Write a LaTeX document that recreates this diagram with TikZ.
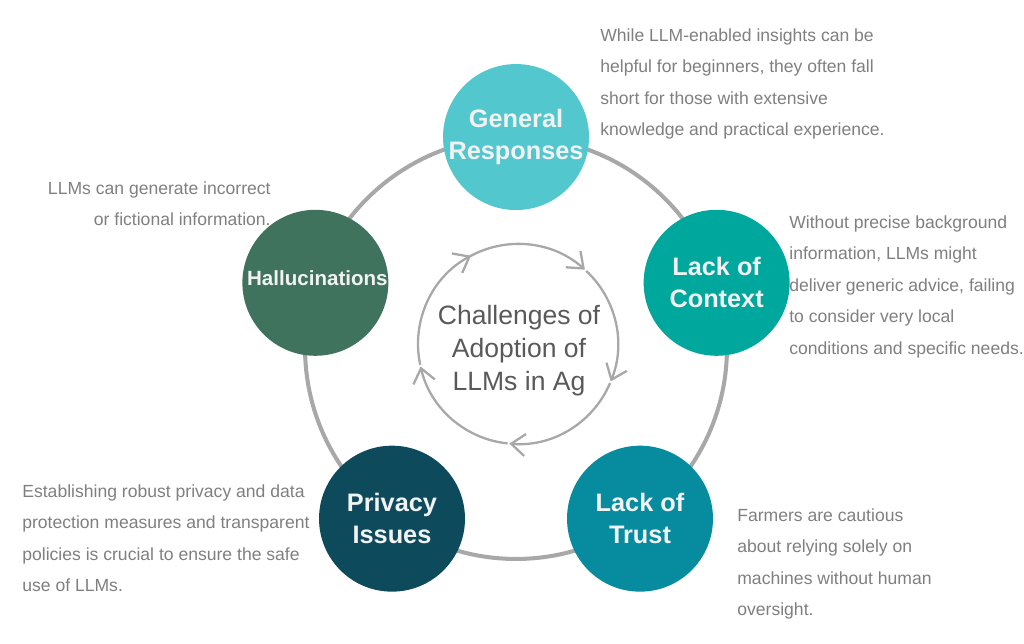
\documentclass[tikz,border=0pt]{standalone}
\usepackage{fontspec}
\setmainfont{Liberation Sans}
\usetikzlibrary{arrows.meta,calc}
\definecolor{genteal}{HTML}{52C7CE}
\definecolor{ctxteal}{HTML}{00A79D}
\definecolor{trustteal}{HTML}{068C9E}
\definecolor{privblue}{HTML}{0D4A5C}
\definecolor{hallgreen}{HTML}{40735E}
\definecolor{ringgray}{HTML}{A8A8A8}
\definecolor{notegray}{HTML}{7F7F7F}
\definecolor{coregray}{HTML}{595959}
\definecolor{labelwhite}{HTML}{F2F2F2}
\tikzset{
	topic/.style={circle, minimum size=2.92cm, inner sep=0pt, text=labelwhite, align=center,
		font=\fontsize{14.4}{18.2}\selectfont\bfseries},
	note/.style={inner sep=0pt, text=notegray, font=\fontsize{10}{18}\selectfont},
	cycle/.style={line width=1.3pt, ringgray, -{Straight Barb[length=2.8mm,width=4.4mm,line width=1.3pt]}}
}

\begin{document}
\begin{tikzpicture}[x=0.02cm, y=0.02cm]
			%%%%% START %%%%%
			\useasboundingbox (0, 0) rectangle (1024, 643);
			
			\coordinate (hub) at (516, 295);
			\coordinate (core) at (518, 299);
			
			% outer ring
			\draw[line width=2.3pt, ringgray] (hub) circle (4.22cm);
			
			% inner cycle of arrows
			\foreach \a/\b in {120/48, 47/-22, -23/-95, -96/-167, -168/-242}
				\draw[cycle] ($(core)+(\a:2cm)$) arc[start angle=\a, end angle=\b, radius=2cm];
			
			\node[text=coregray, align=center, font=\fontsize{15.1}{18.8}\selectfont] (title) at (519, 292) {Challenges of\\Adoption of\\LLMs in Ag};
			
			% topics
			\node[topic, fill=genteal] (gen) at ($(hub)+(90:4.22cm)$) {General\\Responses};
			\node[topic, fill=ctxteal] (ctx) at ($(hub)+(18:4.22cm)$) {Lack of\\Context};
			\node[topic, fill=trustteal] (trust) at ($(hub)+(-54:4.22cm)$) {Lack of\\Trust};
			\node[topic, fill=privblue] (priv) at ($(hub)+(-126:4.22cm)$) {Privacy\\Issues};
			\node[topic, fill=hallgreen] (hall) at ($(hub)+(162:4.22cm)$) {};
			\node[text=labelwhite, font=\fontsize{11.7}{14}\selectfont\bfseries] (hallText) at ($(hall)+(2, 5)$) {Hallucinations};
			
			% notes
			\node[note, anchor=north west, align=left] (genNote) at (600, 615) {While LLM-enabled insights can be\\helpful for beginners, they often fall\\short for those with extensive\\knowledge and practical experience.};
			\node[note, anchor=north east, align=right] (hallNote) at (271, 462) {LLMs can generate incorrect\\or fictional information.};
			\node[note, anchor=north west, align=left] (ctxNote) at (789, 428) {Without precise background\\information, LLMs might\\deliver generic advice, failing\\to consider very local\\conditions and specific needs.};
			\node[note, anchor=north west, align=left] (privNote) at (22, 159) {Establishing robust privacy and data\\protection measures and transparent\\policies is crucial to ensure the safe\\use of LLMs.};
			\node[note, anchor=north west, align=left] (trustNote) at (737, 135) {Farmers are cautious\\about relying solely on\\machines without human\\oversight.};
			
			%%%%% END %%%%%
\end{tikzpicture}
\end{document}
